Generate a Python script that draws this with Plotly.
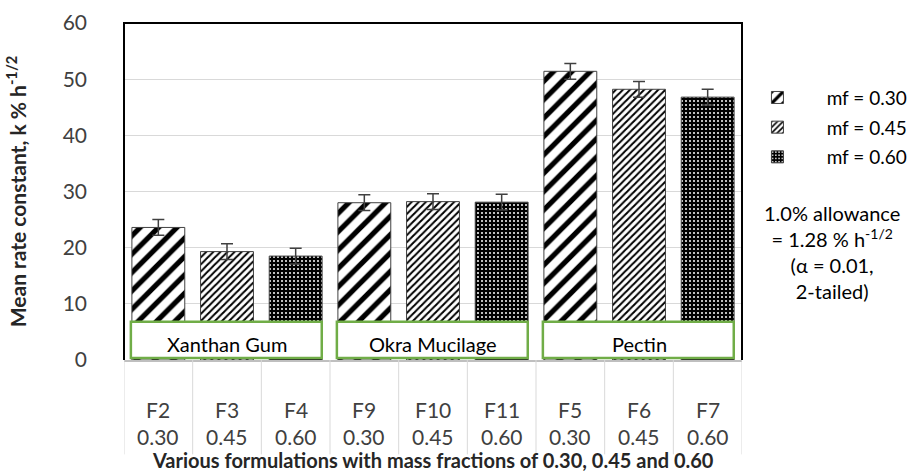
import plotly.graph_objects as go

codes = ["F2", "F3", "F4", "F9", "F10", "F11", "F5", "F6", "F7"]
mass_fractions = ["0.30", "0.45", "0.60", "0.30", "0.45", "0.60", "0.30", "0.45", "0.60"]
rate_k = [23.6, 19.3, 18.5, 28.0, 28.2, 28.1, 51.4, 48.2, 46.8]
err_k = [1.4, 1.4, 1.4, 1.4, 1.4, 1.4, 1.4, 1.4, 1.4]
groups = ["Xanthan Gum", "Okra Mucilage", "Pectin"]
series_names = ["mf = 0.30", "mf = 0.45", "mf = 0.60"]
yticks = [0, 10, 20, 30, 40, 50, 60]

FONT = "Lato"
NB = "\u00a0" * 6
patterns = [
    dict(shape="/", fgcolor="black", bgcolor="white", size=13, solidity=0.4, fgopacity=1),
    dict(shape="/", fgcolor="black", bgcolor="white", size=5, solidity=0.4, fgopacity=1),
    dict(shape=".", fgcolor="white", bgcolor="black", size=4, solidity=0.2, fgopacity=1),
]

fig = go.Figure()
for s in range(3):
    idx = [i for i in range(len(codes)) if i % 3 == s]
    fig.add_trace(go.Bar(
        x=idx, y=[rate_k[i] for i in idx], name=NB + series_names[s],
        width=0.77, opacity=1, legendgroup=str(s),
        marker=dict(color="white", pattern=patterns[s], opacity=1,
                    line=dict(color="#404040", width=1)),
        error_y=dict(type="data", array=[err_k[i] for i in idx],
                     color="#404040", thickness=1.5, width=6),
    ))

shapes = []
for g in range(3):
    shapes.append(dict(type="rect", xref="x", yref="y",
                       x0=3 * g - 0.4, x1=3 * g + 2.38, y0=0.35, y1=6.8,
                       fillcolor="white", line=dict(color="#70AD47", width=2.5), layer="above"))
for i in range(len(codes) + 1):
    shapes.append(dict(type="line", xref="x", yref="paper", x0=i - 0.5, x1=i - 0.5,
                       y0=0, y1=-0.28, line=dict(color="#d9d9d9", width=1)))
shapes.append(dict(type="path", xref="paper", yref="paper",
                   path="M 0 0 L 0 1 L 1 1 L 1 0", line=dict(color="black", width=2)))

annotations = []
for g in range(3):
    annotations.append(dict(x=3 * g + 1, y=2.9, xref="x", yref="y", text=groups[g],
                            showarrow=False, yanchor="middle",
                            font=dict(family=FONT, size=20, color="black")))
for i in range(len(codes)):
    annotations.append(dict(x=i, y=-0.148, xref="x", yref="paper", text=codes[i],
                            showarrow=False, yanchor="middle",
                            font=dict(family=FONT, size=21, color="#404040")))
    annotations.append(dict(x=i, y=-0.228, xref="x", yref="paper", text=mass_fractions[i],
                            showarrow=False, yanchor="middle",
                            font=dict(family=FONT, size=21, color="#404040")))
annotations.append(dict(x=0.5, y=-0.297, xref="paper", yref="paper", yanchor="middle",
                        text="<b>Various formulations with mass fractions of 0.30, 0.45 and 0.60</b>",
                        showarrow=False, font=dict(family=FONT, size=20, color="#262626")))
annotations.append(dict(x=1.146, y=0.32, xref="paper", yref="paper", xanchor="center", yanchor="middle",
                        text="1.0% allowance<br>= 1.28 % h<sup>-1/2</sup><br>(α = 0.01,<br>2-tailed)",
                        showarrow=False, align="center",
                        font=dict(family=FONT, size=20, color="black")))

fig.update_layout(
    width=907, height=471,
    margin=dict(l=124, r=165, t=23, b=111, autoexpand=False),
    paper_bgcolor="white", plot_bgcolor="white",
    barmode="overlay", showlegend=True,
    legend=dict(x=1.025, y=0.835, xanchor="left", yanchor="top",
                font=dict(family=FONT, size=19, color="black"),
                itemwidth=30, tracegroupgap=2, bgcolor="rgba(0,0,0,0)"),
    xaxis=dict(range=[-0.5, 8.5], showticklabels=False, showgrid=False, zeroline=False,
               showline=True, linecolor="#bfbfbf", linewidth=1.5, ticks=""),
    yaxis=dict(range=[0, 60], tickvals=yticks, showgrid=True, gridcolor="#d9d9d9", gridwidth=1,
               zeroline=False, tickfont=dict(family=FONT, size=21, color="#404040"),
               ticklabelstandoff=36,
               title=dict(text="<b>Mean rate constant, k % h<sup>-1/2</sup></b>",
                          font=dict(family=FONT, size=21, color="#262626"), standoff=30)),
    shapes=shapes, annotations=annotations,
)

fig.write_html("out.html")
